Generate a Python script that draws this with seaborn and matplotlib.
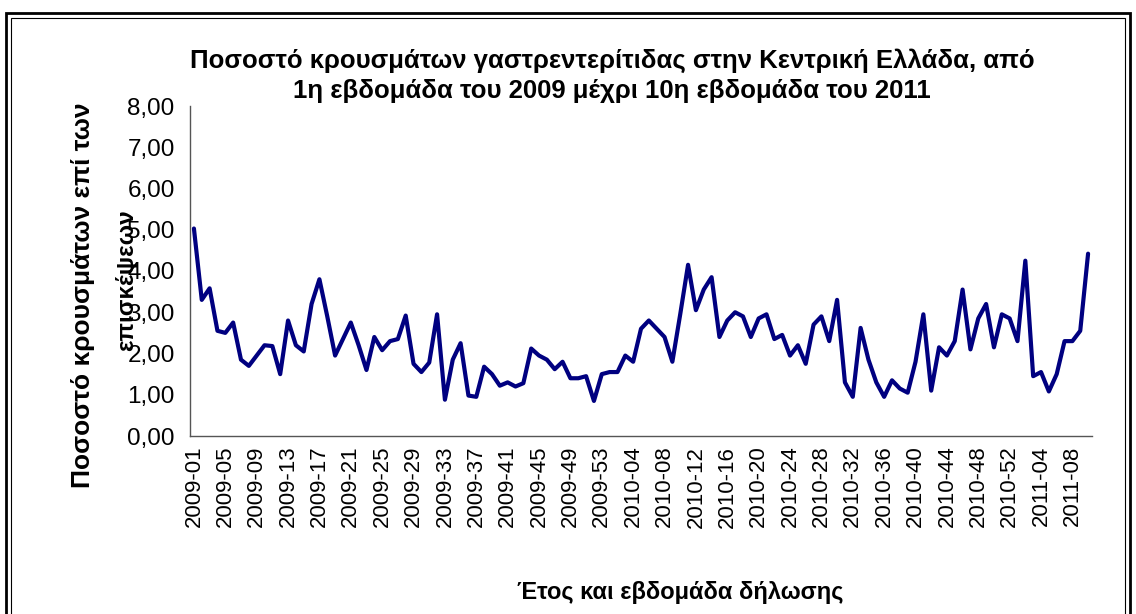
import matplotlib
matplotlib.use("Agg")
import matplotlib.pyplot as plt
import seaborn as sns
import pandas as pd
import numpy as np
from matplotlib.ticker import FuncFormatter, MultipleLocator, FixedLocator
from matplotlib.patches import Rectangle

weeks_2009 = [f"2009-{w:02d}" for w in range(1, 54)]
weeks_2010 = [f"2010-{w:02d}" for w in range(1, 53)]
weeks_2011 = [f"2011-{w:02d}" for w in range(1, 11)]
categories = weeks_2009 + weeks_2010 + weeks_2011

values_2009 = [5.03, 3.30, 3.58, 2.55, 2.50, 2.75, 1.85, 1.70, 1.95, 2.20,
               2.18, 1.50, 2.80, 2.20, 2.05, 3.20, 3.80, 2.90, 1.95, 2.35,
               2.75, 2.20, 1.60, 2.40, 2.08, 2.30, 2.35, 2.92, 1.75, 1.55,
               1.78, 2.95, 0.88, 1.85, 2.25, 0.98, 0.95, 1.68, 1.50, 1.22,
               1.30, 1.20, 1.28, 2.12, 1.95, 1.85, 1.62, 1.80, 1.40, 1.40,
               1.45, 0.85, 1.50]
values_2010 = [1.55, 1.55, 1.95, 1.80, 2.60, 2.80, 2.60, 2.40, 1.80, 2.95,
               4.15, 3.05, 3.55, 3.85, 2.40, 2.80, 3.00, 2.90, 2.40, 2.85,
               2.95, 2.35, 2.45, 1.95, 2.20, 1.75, 2.70, 2.90, 2.30, 3.30,
               1.30, 0.95, 2.62, 1.85, 1.30, 0.95, 1.35, 1.15, 1.05, 1.80,
               2.95, 1.10, 2.15, 1.95, 2.30, 3.55, 2.10, 2.85, 3.20, 2.15,
               2.95, 2.85]
values_2011 = [2.30, 4.25, 1.45, 1.55, 1.08, 1.50, 2.30, 2.30, 2.55, 4.42]
values = values_2009 + values_2010 + values_2011

title = "Ποσοστό κρουσμάτων γαστρεντερίτιδας στην Κεντρική Ελλάδα, από\n1η εβδομάδα του 2009 μέχρι 10η εβδομάδα του 2011"
ylabel_1 = "Ποσοστό κρουσμάτων επί των"
ylabel_2 = "επισκέψεων"
xlabel = "Έτος και εβδομάδα δήλωσης"

df = pd.DataFrame({"pos": np.arange(len(categories)), "week": categories, "value": values})

sns.set_style("white")
plt.rcParams["font.family"] = ["Liberation Sans", "DejaVu Sans"]
plt.rcParams["text.color"] = "black"
plt.rcParams["xtick.color"] = "black"
plt.rcParams["ytick.color"] = "black"

W, H = 1136, 614
fig = plt.figure(figsize=(W / 100, H / 100), dpi=100)
ax = fig.add_axes([190 / W, (H - 436) / H, (1092 - 190) / W, (436 - 106) / H])

sns.lineplot(data=df, x="pos", y="value", ax=ax, color="#000080", linewidth=3.0)

ax.set_xlim(-0.5, len(categories) - 0.5)
ax.set_ylim(0, 8)
ax.yaxis.set_major_locator(MultipleLocator(1))
ax.yaxis.set_major_formatter(FuncFormatter(lambda v, p: f"{v:.2f}".replace(".", ",")))

major_pos = list(range(0, len(categories), 4))
ax.xaxis.set_major_locator(FixedLocator(major_pos))
ax.set_xticklabels([categories[i] for i in major_pos], rotation=90, fontsize=16)
ax.xaxis.set_minor_locator(FixedLocator(np.arange(-0.5, len(categories), 1)))
ax.tick_params(axis="x", which="major", length=0, pad=7, labelcolor="black")
ax.tick_params(axis="x", which="minor", length=5, width=0.8, color="#555555", direction="out")
ax.tick_params(axis="y", which="major", length=5, width=0.8, color="#555555", direction="out",
               labelsize=17.5, pad=6, labelcolor="black")

for s in ["top", "right"]:
    ax.spines[s].set_visible(False)
for s in ["left", "bottom"]:
    ax.spines[s].set_color("#555555")
    ax.spines[s].set_linewidth(1.0)

ax.set_xlabel("")
ax.set_ylabel("")

fig.text(612 / W, 1 - 76 / H, title, ha="center", va="center", fontsize=18.5,
         fontweight="bold", linespacing=1.3)
fig.text(83 / W, 1 - 295 / H, ylabel_1, rotation=90, ha="center", va="center",
         fontsize=19, fontweight="bold")
fig.text(127 / W, 1 - 280 / H, ylabel_2, rotation=90, ha="center", va="center",
         fontsize=17.5, fontweight="bold")
fig.text(680 / W, 1 - 592 / H, xlabel, ha="center", va="center",
         fontsize=17, fontweight="bold")

# double frame around chart area
fig.patches.append(Rectangle((6 / W, -0.05), (W - 12) / W, (H - 13) / H + 0.05,
                             transform=fig.transFigure, fill=False, edgecolor="black",
                             linewidth=2.0))
fig.patches.append(Rectangle((11 / W, -0.05), (W - 22) / W, (H - 18) / H + 0.05,
                             transform=fig.transFigure, fill=False, edgecolor="black",
                             linewidth=0.8))

fig.savefig("out.png", dpi=100)
